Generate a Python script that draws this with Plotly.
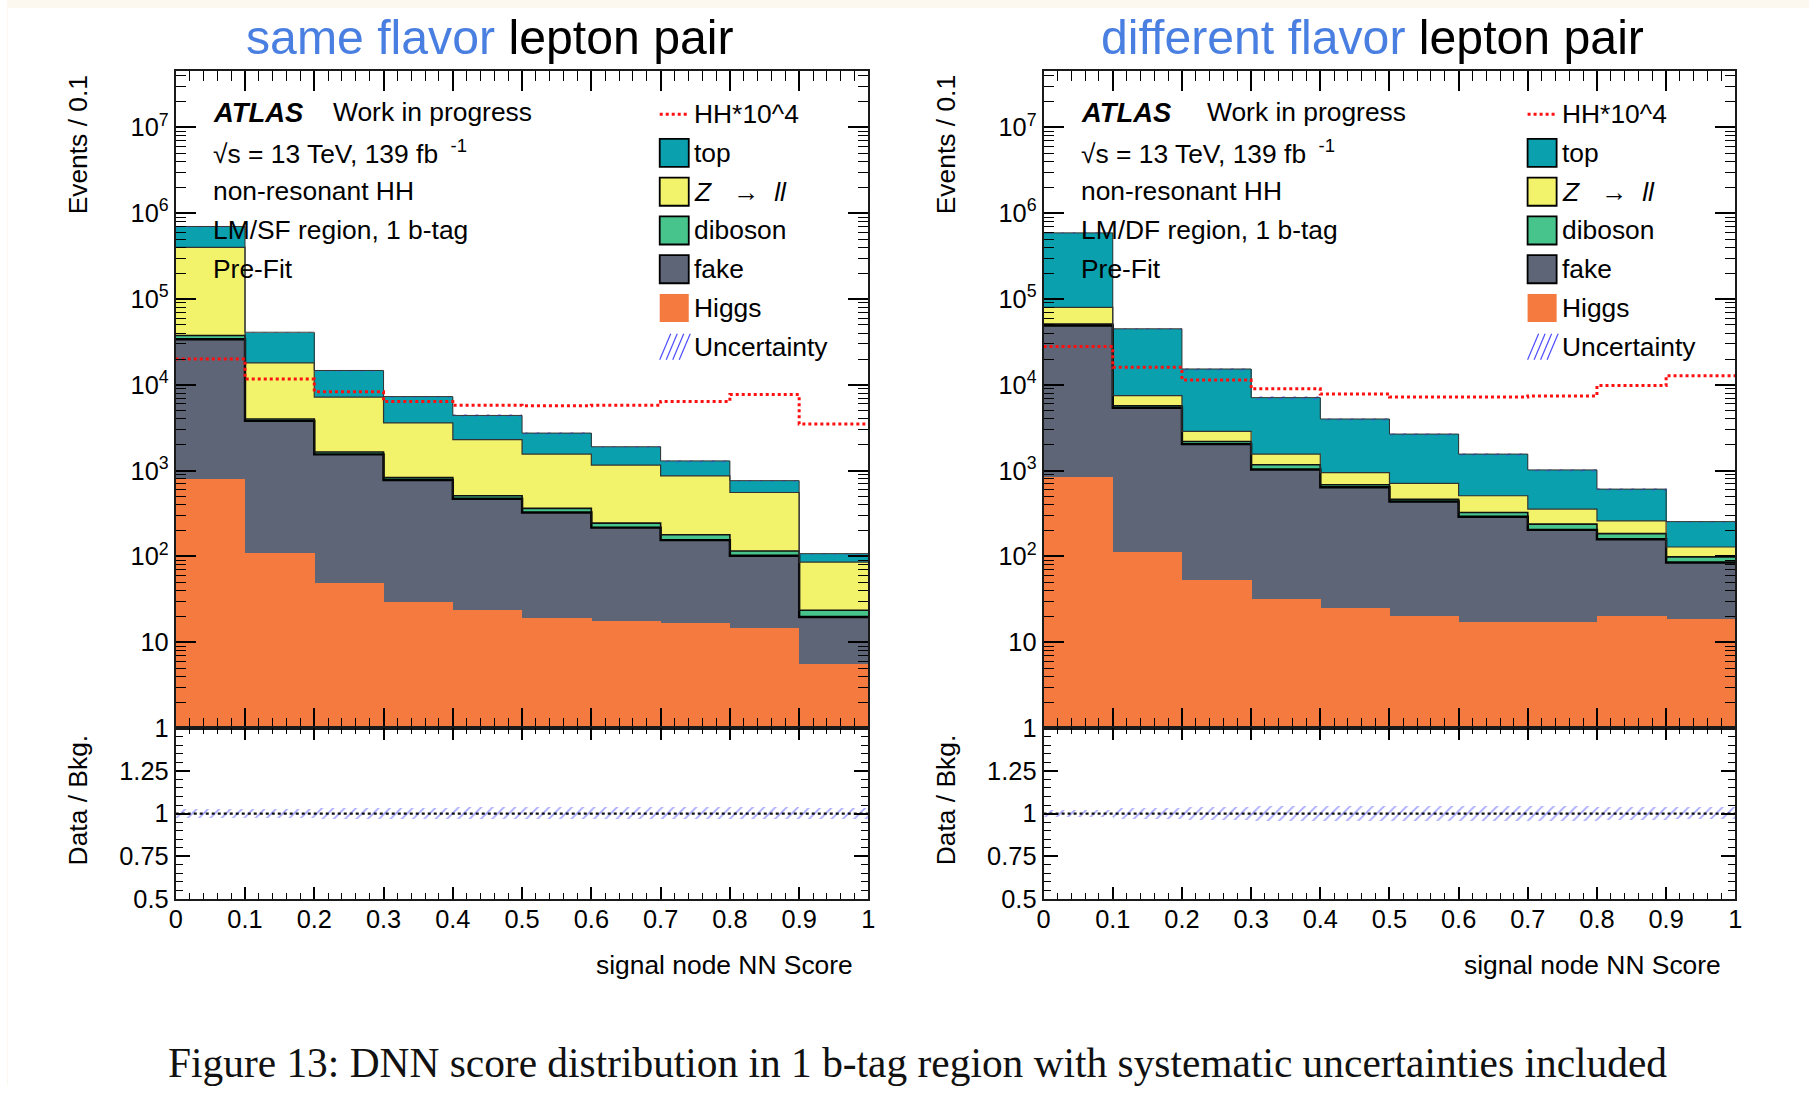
import numpy as np
import plotly.graph_objects as go

W, H = 1816, 1099
SANS = "Liberation Sans, Arial, Helvetica, sans-serif"
SERIF = "Liberation Serif, Times New Roman, serif"

# ---- binning of the signal-node NN score ----
BIN_EDGES = [0.0, 0.1, 0.2, 0.3, 0.4, 0.5, 0.6, 0.7, 0.8, 0.9, 1.0]
X_TICKS = [0.0, 0.1, 0.2, 0.3, 0.4, 0.5, 0.6, 0.7, 0.8, 0.9, 1.0]
X_TICK_TEXT = ["0", "0.1", "0.2", "0.3", "0.4", "0.5", "0.6", "0.7", "0.8", "0.9", "1"]
Y_TICKS = [1, 10, 1e2, 1e3, 1e4, 1e5, 1e6, 1e7]
Y_TICK_TEXT = ["1", "10", "10<sup>2</sup>", "10<sup>3</sup>", "10<sup>4</sup>",
               "10<sup>5</sup>", "10<sup>6</sup>", "10<sup>7</sup>"]
R_TICKS = [0.5, 0.75, 1.0, 1.25]
R_TICK_TEXT = ["0.5", "0.75", "1", "1.25"]

# ---- LM/SF region, 1 b-tag: pre-fit yields per bin ----
sf_higgs = [800, 111, 50, 30, 24, 19.4, 18, 17, 15, 5.6]
sf_fake = [33200, 3690, 1500, 750, 446, 306, 199, 138, 87, 14.1]
sf_diboson = [3500, 200, 100, 50, 40, 38, 28, 24, 14, 3.9]
sf_zll = [362500, 14000, 5550, 2770, 1790, 1197, 915, 691, 441, 62.4]
sf_top = [300000, 23000, 7500, 3700, 2100, 1180, 740, 430, 208, 22]
sf_hh = [20000, 11700, 8300, 6400, 5800, 5700, 5800, 6400, 7700, 3500]
sf_unc = [0.025, 0.025, 0.03, 0.03, 0.035, 0.035, 0.035, 0.035, 0.035, 0.03]

# ---- LM/DF region, 1 b-tag: pre-fit yields per bin ----
df_higgs = [850, 113, 54, 32, 25, 20.6, 17.3, 17.3, 20.6, 19]
df_fake = [48150, 5290, 1986, 998, 615, 416, 273, 187, 138, 66]
df_diboson = [2000, 300, 150, 140, 45, 28, 35, 34, 26, 14]
df_zll = [29000, 1800, 680, 390, 265, 245, 185, 119, 75, 30]
df_top = [510000, 37500, 12430, 5540, 3050, 1960, 1050, 663, 350, 126]
df_hh = [28000, 16000, 11400, 9000, 7800, 7200, 7200, 7400, 9800, 12800]
df_unc = [0.02, 0.03, 0.04, 0.045, 0.045, 0.045, 0.045, 0.045, 0.04, 0.035]

# stack order, bottom to top
COLORS = {
    "Higgs": "#f47a40",
    "fake": "#5d6577",
    "diboson": "#47c48c",
    "zll": "#f2f26b",
    "top": "#0aa0ad",
}
# outline drawn on top of each cumulative level (fake, diboson, Z, top)
OUTLINES = [("#000000", 2.4), ("#111111", 1.6), ("#333333", 1.2), ("#333333", 1.0)]
HATCH = "#4d4dff"
CREAM = "#fdf8ef"

# design grid (page pixels) -> figure pixels
SX, OX, SY = 0.9913, 8.0, 0.9857


def fx(x):
    return x / SX - OX


def fy(y):
    return y / SY


def px(x):
    return fx(x) / W


def py(y):
    return 1 - fy(y) / H


def fs(size):
    return round(size / SY, 1)


fig = go.Figure()


def hatch_marker():
    return dict(color="rgba(0,0,0,0)", line=dict(width=0),
                pattern=dict(shape="/", fgcolor=HATCH, bgcolor="rgba(0,0,0,0)",
                             size=8, solidity=0.22, fillmode="overlay"))


def add_panel(ax, yields, hh, unc):
    """Stacked histogram + signal + uncertainty on main axes, ratio below."""
    xm, ym, xr, yr = ax
    edges = np.array(BIN_EDGES)
    centers = 0.5 * (edges[:-1] + edges[1:])
    widths = np.diff(edges)
    order = ["Higgs", "fake", "diboson", "zll", "top"]
    stack = np.array([yields[k] for k in order], dtype=float)
    cum = np.cumsum(stack, axis=0)
    total = cum[-1]
    unc = np.array(unc)

    for k, vals in zip(order, stack):
        fig.add_trace(go.Bar(
            x=centers, y=vals, width=widths, xaxis=xm, yaxis=ym,
            marker=dict(color=COLORS[k], line=dict(width=0)),
            showlegend=False, hoverinfo="skip"))

    # systematic uncertainty band on the total background
    fig.add_trace(go.Bar(
        x=centers, y=2 * unc * total, base=total * (1 - unc), width=widths,
        xaxis=xm, yaxis=ym, marker=hatch_marker(),
        showlegend=False, hoverinfo="skip"))

    for level, (col, lw) in zip(cum[1:], OUTLINES):
        fig.add_trace(go.Scatter(
            x=edges, y=list(level) + [level[-1]], xaxis=xm, yaxis=ym,
            mode="lines", line=dict(shape="hv", color=col, width=lw),
            showlegend=False, hoverinfo="skip"))

    fig.add_trace(go.Scatter(
        x=edges, y=list(hh) + [hh[-1]], xaxis=xm, yaxis=ym, mode="lines",
        line=dict(shape="hv", color="#ff1010", width=3, dash="dot"),
        showlegend=False, hoverinfo="skip"))

    # ratio panel: relative uncertainty band around the background/background line
    fig.add_trace(go.Bar(
        x=centers, y=2 * unc, base=1 - unc, width=widths, xaxis=xr, yaxis=yr,
        marker=hatch_marker(), showlegend=False, hoverinfo="skip"))
    ratio = total / total
    fig.add_trace(go.Scatter(
        x=edges, y=list(ratio) + [ratio[-1]], xaxis=xr, yaxis=yr, mode="lines",
        line=dict(shape="hv", color="#111111", width=2.2, dash="3px,3px"),
        showlegend=False, hoverinfo="skip"))


add_panel(("x", "y", "x2", "y2"),
          dict(Higgs=sf_higgs, fake=sf_fake, diboson=sf_diboson, zll=sf_zll, top=sf_top),
          sf_hh, sf_unc)
add_panel(("x3", "y3", "x4", "y4"),
          dict(Higgs=df_higgs, fake=df_fake, diboson=df_diboson, zll=df_zll, top=df_top),
          df_hh, df_unc)

# ---- axes ----
LEFT_X = [px(176.5), px(868.5)]
RIGHT_X = [px(1043.5), px(1734.5)]
MAIN_Y = [py(727), py(70.6)]
RATIO_Y = [py(897.5), py(727)]

tickfont = dict(family=SANS, size=fs(25), color="black")
frame = dict(showline=True, linecolor="#1a1a1a", linewidth=2, mirror="allticks",
             showgrid=False, zeroline=False, ticks="inside", tickcolor="black",
             tickwidth=1.5, tickfont=tickfont)

log_minor = [k * 10 ** d for d in range(0, 8) for k in range(2, 10)]


def x_main(dom, anchor):
    return dict(domain=dom, anchor=anchor, range=[0, 1], tickvals=X_TICKS,
                showticklabels=False, ticklen=20,
                minor=dict(ticks="inside", ticklen=10, dtick=0.02, tick0=0,
                           tickcolor="black", tickwidth=1.2), **frame)


def x_ratio(dom, anchor):
    return dict(domain=dom, anchor=anchor, range=[0, 1], tickvals=X_TICKS,
                ticktext=X_TICK_TEXT, ticklen=12, ticklabelstandoff=-3,
                minor=dict(ticks="inside", ticklen=6, dtick=0.02, tick0=0,
                           tickcolor="black", tickwidth=1.2), **frame)


def y_main(anchor):
    return dict(domain=MAIN_Y, anchor=anchor, type="log", range=[0, 7.66],
                tickvals=Y_TICKS, ticktext=Y_TICK_TEXT, ticklen=20,
                minor=dict(ticks="inside", ticklen=10, tickvals=log_minor,
                           tickcolor="black", tickwidth=1.2), **frame)


def y_ratio(anchor):
    return dict(domain=RATIO_Y, anchor=anchor, range=[0.5, 1.5],
                tickvals=R_TICKS, ticktext=R_TICK_TEXT, ticklen=14,
                minor=dict(ticks="inside", ticklen=7, dtick=0.05, tick0=0.5,
                           tickcolor="black", tickwidth=1.2), **frame)


fig.update_layout(
    width=W, height=H, margin=dict(l=0, r=0, t=0, b=0),
    paper_bgcolor="white", plot_bgcolor="white",
    barmode="stack", bargap=0, showlegend=False,
    xaxis=x_main(LEFT_X, "y"), yaxis=y_main("x"),
    xaxis2=x_ratio(LEFT_X, "y2"), yaxis2=y_ratio("x2"),
    xaxis3=x_main(RIGHT_X, "y3"), yaxis3=y_main("x3"),
    xaxis4=x_ratio(RIGHT_X, "y4"), yaxis4=y_ratio("x4"),
)

# page border strips
fig.add_shape(type="rect", xref="paper", yref="paper", x0=0, x1=1, y0=py(8), y1=1,
              fillcolor=CREAM, line=dict(width=0), layer="below")
fig.add_shape(type="rect", xref="paper", yref="paper", x0=0, x1=px(9), y0=0, y1=1,
              fillcolor=CREAM, line=dict(width=0), layer="below")


def text(s, x, y, size=26, xanchor="left", yanchor="middle", family=SANS,
         color="black", angle=0):
    fig.add_annotation(text=s, x=px(x), y=py(y), xref="paper", yref="paper",
                       xanchor=xanchor, yanchor=yanchor, showarrow=False,
                       textangle=angle,
                       font=dict(family=family, size=fs(size), color=color))


BLUE = "#4a7fe2"
text(f"<span style='color:{BLUE}'>same flavor</span> lepton pair", 490, 37,
     size=47.5, xanchor="center")
text(f"<span style='color:{BLUE}'>different flavor</span> lepton pair", 1372, 37,
     size=47.5, xanchor="center")

PANELS = [
    dict(dx=0, work=332, region="LM/SF region, 1 b-tag", xtitle=855),
    dict(dx=867, work=1205, region="LM/DF region, 1 b-tag", xtitle=1722),
]
LINE_Y = [112, 152, 191, 230, 269]
LEG_Y0, LEG_DY = 114, 38.7

for p in PANELS:
    dx = p["dx"]
    text("<b><i>ATLAS</i></b>", 212 + dx, LINE_Y[0], size=27)
    text("Work in progress", p["work"], LINE_Y[0], size=26)
    text("√s = 13 TeV, 139 fb <sup> -1</sup>", 212 + dx, LINE_Y[1], size=26)
    text("non-resonant HH", 212 + dx, LINE_Y[2], size=26)
    text(p["region"], 212 + dx, LINE_Y[3], size=26)
    text("Pre-Fit", 212 + dx, LINE_Y[4], size=26)

    # axis titles
    text("Events / 0.1", 79 + dx, 145, size=26, xanchor="center", angle=-90)
    text("Data / Bkg.", 79 + dx, 799, size=26, xanchor="center", angle=-90)
    text("signal node NN Score", p["xtitle"], 963, size=26, xanchor="right")

    # legend
    bx0, bx1 = 660 + dx, 689 + dx
    labels = ["HH*10^4", "top", "<i>Z</i>   →  <i>ll</i>", "diboson", "fake",
              "Higgs", "Uncertainty"]
    fills = [None, COLORS["top"], COLORS["zll"], COLORS["diboson"],
             COLORS["fake"], COLORS["Higgs"], None]
    for i, (lab, fc) in enumerate(zip(labels, fills)):
        yc = LEG_Y0 + i * LEG_DY
        text(lab, 692 + dx, yc, size=26)
        if i == 0:
            fig.add_shape(type="line", xref="paper", yref="paper",
                          x0=px(bx0), x1=px(bx1), y0=py(yc), y1=py(yc),
                          line=dict(color="#ff1010", width=3, dash="dot"))
        elif i == 6:
            for k in range(4):
                x0 = bx0 + k * 6.5
                fig.add_shape(type="line", xref="paper", yref="paper",
                              x0=px(x0), x1=px(x0 + 11), y0=py(yc + 13),
                              y1=py(yc - 13),
                              line=dict(color=HATCH, width=1.2))
        else:
            edge = dict(color=fc, width=0) if i == 5 else dict(color="black", width=1.8)
            fig.add_shape(type="rect", xref="paper", yref="paper",
                          x0=px(bx0), x1=px(bx1), y0=py(yc + 14), y1=py(yc - 14),
                          fillcolor=fc, line=edge)

text("Figure 13: DNN score distribution in 1 b-tag region with systematic "
     "uncertainties included", 918, 1061, size=40.8, xanchor="center",
     family=SERIF, color="#111111")

fig.write_html("out.html")
